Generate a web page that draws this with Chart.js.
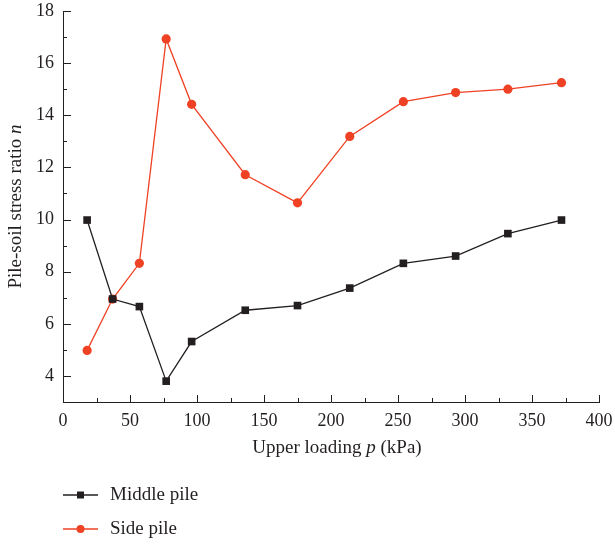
<!DOCTYPE html>
<html>
<head>
<meta charset="utf-8">
<script src="https://cdn.jsdelivr.net/npm/chart.js@4/dist/chart.umd.min.js"></script>
<style>
html,body{margin:0;padding:0;background:#fff;}
#wrap{width:615px;height:546px;position:relative;}
</style>
</head>
<body>
<div id="wrap"><canvas id="c" width="615" height="546"></canvas></div>
<script>
// ---- data ----
const loadP = [18, 37, 57, 77, 96, 136, 175, 214, 254, 293, 332, 372];
const middlePile = [9.98, 6.95, 6.66, 3.8, 5.32, 6.52, 6.7, 7.37, 8.32, 8.6, 9.46, 9.98];
const sidePile = [4.98, 6.95, 8.32, 16.93, 14.42, 11.72, 10.64, 13.19, 14.52, 14.87, 15.0, 15.25];
const xTickValues = [0, 50, 100, 150, 200, 250, 300, 350, 400];
const yTickValues = [4, 6, 8, 10, 12, 14, 16, 18];
const seriesNames = ['Middle pile', 'Side pile'];
const xTitleParts = [['Upper loading ', false], ['p', true], [' (kPa)', false]];
const yTitleParts = [['Pile-soil stress ratio ', false], ['n', true]];

const BLACK = '#231f20';
const RED = '#ef4123';
const FONT = "'Liberation Serif', 'DejaVu Serif', serif";

function pts(xs, ys) { return xs.map((x, i) => ({x: x, y: ys[i]})); }

function drawParts(ctx, parts, size, cx, cy) {
  let total = 0;
  parts.forEach(p => { ctx.font = (p[1] ? 'italic ' : '') + size + 'px ' + FONT; total += ctx.measureText(p[0]).width; });
  let x = cx - total / 2;
  ctx.textAlign = 'left';
  ctx.textBaseline = 'middle';
  parts.forEach(p => { ctx.font = (p[1] ? 'italic ' : '') + size + 'px ' + FONT; ctx.fillText(p[0], x, cy); x += ctx.measureText(p[0]).width; });
}

const decor = {
  id: 'decor',
  afterDraw(chart) {
    const ctx = chart.ctx;
    const xs = chart.scales.x, ys = chart.scales.y;
    const ca = chart.chartArea;
    ctx.save();
    ctx.strokeStyle = BLACK;
    ctx.lineWidth = 1;
    // inward ticks
    xs.ticks.forEach(t => {
      const px = Math.round(xs.getPixelForValue(t.value)) + 0.5;
      const len = (t.value % 50 === 0) ? 7 : 4;
      ctx.beginPath(); ctx.moveTo(px, ca.bottom); ctx.lineTo(px, ca.bottom - len); ctx.stroke();
    });
    ys.ticks.forEach(t => {
      const py = Math.round(ys.getPixelForValue(t.value)) + 0.5;
      const len = (t.value % 2 === 0) ? 8 : 4;
      ctx.beginPath(); ctx.moveTo(ca.left, py); ctx.lineTo(ca.left + len, py); ctx.stroke();
    });
    // axis titles
    ctx.fillStyle = BLACK;
    drawParts(ctx, xTitleParts, 19, (ca.left + ca.right) / 2 + 6, 448);
    ctx.save();
    ctx.translate(16, (ca.top + ca.bottom) / 2);
    ctx.rotate(-Math.PI / 2);
    drawParts(ctx, yTitleParts, 19, 0, 0);
    ctx.restore();
    // legend
    chart.data.datasets.forEach((ds, i) => {
      const y = 495 + i * 34;
      ctx.strokeStyle = ds.borderColor;
      ctx.lineWidth = ds.borderWidth;
      ctx.beginPath(); ctx.moveTo(63, y); ctx.lineTo(98, y); ctx.stroke();
      ctx.fillStyle = ds.pointBackgroundColor;
      if (ds.pointStyle === 'rect') {
        ctx.fillRect(80.5 - 3.5, y - 3.5, 7, 7);
      } else {
        ctx.beginPath(); ctx.arc(80.5, y, 4, 0, Math.PI * 2); ctx.fill();
      }
      ctx.fillStyle = BLACK;
      ctx.font = '19px ' + FONT;
      ctx.textAlign = 'left';
      ctx.textBaseline = 'middle';
      ctx.fillText(seriesNames[i], 110, y);
    });
    ctx.restore();
  }
};

new Chart(document.getElementById('c'), {
  type: 'scatter',
  data: {
    datasets: [
      { label: seriesNames[0], data: pts(loadP, middlePile), showLine: true,
        borderColor: BLACK, backgroundColor: BLACK, pointBackgroundColor: BLACK, pointBorderColor: BLACK,
        borderWidth: 1.3, pointStyle: 'rect', pointRadius: 5.4, pointBorderWidth: 0, pointHoverRadius: 5.4 },
      { label: seriesNames[1], data: pts(loadP, sidePile), showLine: true,
        borderColor: RED, backgroundColor: RED, pointBackgroundColor: RED, pointBorderColor: RED,
        borderWidth: 1.3, pointStyle: 'circle', pointRadius: 4.6, pointBorderWidth: 0, pointHoverRadius: 4.6 }
    ]
  },
  options: {
    responsive: false,
    animation: false,
    events: [],
    layout: { padding: { top: 11, right: 16, bottom: 84, left: 0 } },
    plugins: { legend: { display: false }, tooltip: { enabled: false } },
    scales: {
      x: {
        type: 'linear', min: 0, max: 400,
        afterBuildTicks: s => { const t = []; for (let v = 0; v <= 400; v += 25) t.push({value: v}); s.ticks = t; },
        afterFit: s => { s.height = 60; s.paddingLeft = 0; s.paddingRight = 0; },
        grid: { display: false, drawTicks: false },
        border: { display: true, color: BLACK, width: 1 },
        ticks: { autoSkip: false, maxRotation: 0, padding: 8, color: BLACK, font: { family: FONT, size: 18 },
                 callback: v => xTickValues.includes(v) ? String(v) : '' }
      },
      y: {
        type: 'linear', min: 3, max: 18,
        afterBuildTicks: s => { const t = []; for (let v = 3; v <= 18; v += 1) t.push({value: v}); s.ticks = t; },
        afterFit: s => { s.width = 63; s.paddingTop = 0; s.paddingBottom = 0; },
        grid: { display: false, drawTicks: false },
        border: { display: true, color: BLACK, width: 1 },
        ticks: { autoSkip: false, padding: 9, color: BLACK, font: { family: FONT, size: 18 },
                 callback: v => yTickValues.includes(v) ? String(v) : '' }
      }
    }
  },
  plugins: [decor]
});
</script>
</body>
</html>
